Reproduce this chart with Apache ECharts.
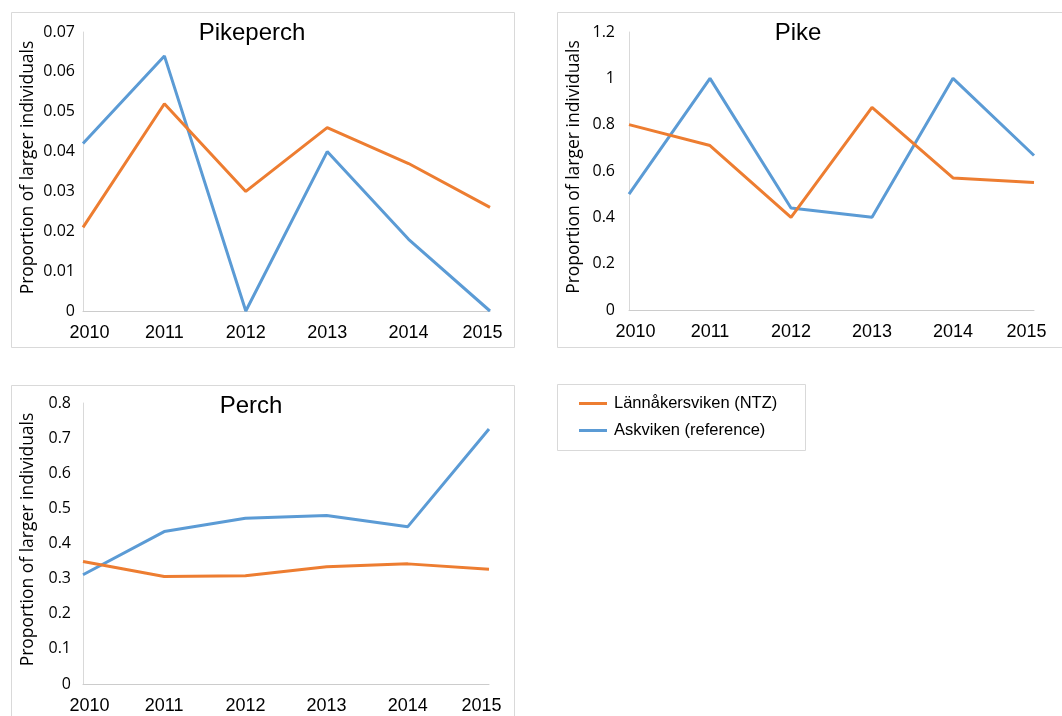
<!DOCTYPE html>
<html>
<head>
<meta charset="utf-8">
<script src="https://cdn.jsdelivr.net/npm/echarts@6/dist/echarts.min.js"></script>
<style>
html,body{margin:0;padding:0;background:#fff;}
#c{width:1062px;height:716px;}
</style>
</head>
<body>
<div id="c"></div>
<script>
const years = ['2010', '2011', '2012', '2013', '2014', '2015'];
const seriesNames = ['Lännåkersviken (NTZ)', 'Askviken (reference)'];
const panelTitles = ['Pikeperch', 'Pike', 'Perch'];
const yAxisTitle = 'Proportion of larger individuals';

const pikeperchNTZ = [0.021, 0.052, 0.030, 0.046, 0.037, 0.026];
const pikeperchRef = [0.042, 0.064, 0, 0.040, 0.018, 0];
const pikeNTZ = [0.80, 0.71, 0.40, 0.875, 0.57, 0.55];
const pikeRef = [0.50, 1.0, 0.44, 0.40, 1.0, 0.667];
const perchNTZ = [0.349, 0.306, 0.308, 0.334, 0.342, 0.327];
const perchRef = [0.311, 0.434, 0.472, 0.480, 0.448, 0.726];

const yMax = [0.07, 1.2, 0.8];
const yStep = [0.01, 0.2, 0.1];

const ORANGE = '#ED7D31';
const BLUE = '#5B9BD5';
const SANS = 'Liberation Sans, Arial, sans-serif';
const OPEN = 'Open Sans, sans-serif';

const grids = [
  {left: 83, top: 32, width: 407, height: 279},
  {left: 629, top: 32, width: 405, height: 278},
  {left: 83, top: 403, width: 406, height: 281}
];

const chart = echarts.init(document.getElementById('c'), null, {renderer: 'canvas'});

function yearItems() {
  return years.map((y, j) => {
    if (j === 0) return {value: y, textStyle: {padding: [0, 0, 0, 13]}};
    if (j === years.length - 1) return {value: y, textStyle: {padding: [0, 15, 0, 0]}};
    return y;
  });
}

const xAxes = grids.map((g, i) => ({
  type: 'category',
  gridIndex: i,
  data: yearItems(),
  boundaryGap: false,
  axisLine: {lineStyle: {color: '#cccccc', width: 1}},
  axisTick: {show: false},
  axisLabel: {color: '#000', fontFamily: SANS, fontSize: 18, margin: 13}
}));

const yAxes = grids.map((g, i) => ({
  type: 'value',
  gridIndex: i,
  min: 0,
  max: yMax[i],
  interval: yStep[i],
  name: yAxisTitle,
  nameLocation: 'middle',
  nameGap: 46,
  nameRotate: 90,
  nameTextStyle: {color: '#000', fontFamily: OPEN, fontSize: 17.5, padding: [0, 0, 0, 8]},
  axisLine: {show: true, lineStyle: {color: '#d9d9d9', width: 1}},
  axisTick: {show: false},
  splitLine: {show: false},
  axisLabel: {color: '#000', fontFamily: OPEN, fontSize: 16, margin: [8, 14, 12][i]}
}));

const dataSets = [[pikeperchNTZ, pikeperchRef], [pikeNTZ, pikeRef], [perchNTZ, perchRef]];
const series = [];
dataSets.forEach((pair, i) => {
  pair.forEach((vals, k) => {
    series.push({
      type: 'line',
      name: seriesNames[k],
      xAxisIndex: i,
      yAxisIndex: i,
      data: vals,
      symbol: 'none',
      lineStyle: {color: k === 0 ? ORANGE : BLUE, width: 3},
      itemStyle: {color: k === 0 ? ORANGE : BLUE},
      z: k === 0 ? 3 : 2
    });
  });
});

const titlePos = [[252, 21], [798, 21], [251, 394]];

chart.setOption({
  animation: false,
  backgroundColor: '#fff',
  title: panelTitles.map((t, i) => ({
    text: t,
    left: titlePos[i][0],
    top: titlePos[i][1],
    textAlign: 'center',
    padding: 0,
    textStyle: {color: '#000', fontFamily: SANS, fontSize: 24, fontWeight: 'normal'}
  })),
  legend: {
    data: seriesNames,
    orient: 'vertical',
    left: 579,
    top: 394,
    padding: 0,
    itemWidth: 28,
    itemHeight: 3,
    itemGap: 8,
    icon: 'rect',
    textStyle: {color: '#000', fontFamily: SANS, fontSize: 16.5, lineHeight: 19, padding: [0, 0, 0, 2]}
  },
  graphic: [
    {type: 'rect', shape: {x: 11.5, y: 12.5, width: 503, height: 335}, style: {fill: 'none', stroke: '#d9d9d9', lineWidth: 1}, z: -1},
    {type: 'rect', shape: {x: 557.5, y: 12.5, width: 520, height: 335}, style: {fill: 'none', stroke: '#d9d9d9', lineWidth: 1}, z: -1},
    {type: 'rect', shape: {x: 11.5, y: 385.5, width: 503, height: 350}, style: {fill: 'none', stroke: '#d9d9d9', lineWidth: 1}, z: -1},
    {type: 'rect', shape: {x: 557.5, y: 384.5, width: 248, height: 66}, style: {fill: 'none', stroke: '#d9d9d9', lineWidth: 1}, z: -1}
  ],
  grid: grids,
  xAxis: xAxes,
  yAxis: yAxes,
  series: series
});
</script>
</body>
</html>
